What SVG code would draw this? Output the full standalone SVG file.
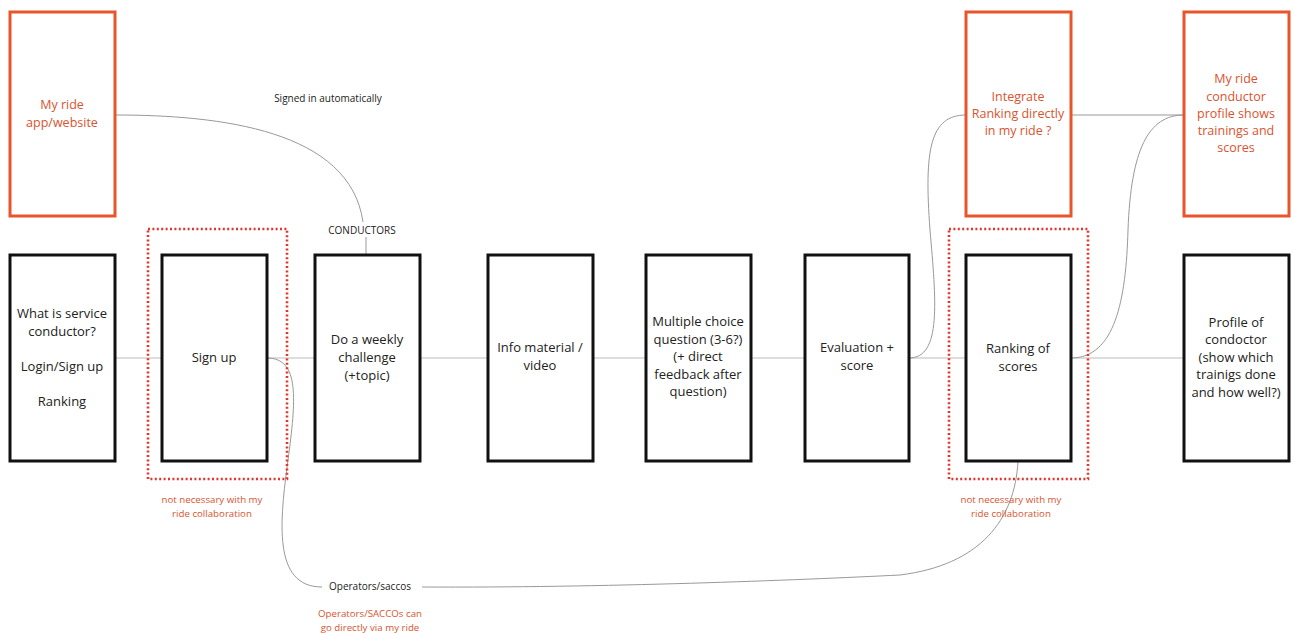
<svg xmlns="http://www.w3.org/2000/svg" width="1294" height="633" viewBox="0 0 1294 633">
<style>
.box{fill:#fff;stroke:#111;stroke-width:3}
.obox{fill:#fff;stroke:#E8552B;stroke-width:3}
.dot{fill:none;stroke:#E0362E;stroke-width:2.6;stroke-dasharray:2 2.4}
.t{font-family:"Open Sans","Noto Sans",sans-serif;font-size:13px;fill:#222;text-anchor:middle}
.ot{font-family:"Open Sans","Noto Sans",sans-serif;font-size:12.5px;fill:#D9532F;text-anchor:middle}
.s{font-family:"Open Sans","Noto Sans",sans-serif;font-size:10px;fill:#222;text-anchor:middle}
.rs{font-family:"Open Sans","Noto Sans",sans-serif;font-size:9.7px;fill:#D9532F;text-anchor:middle}
.c{fill:none;stroke:#bbb;stroke-width:1.2}
.c2{fill:none;stroke:#999;stroke-width:1}
</style>
<rect width="1294" height="633" fill="#fff"/>
<g id="connectors">
<line class="c" x1="115" y1="358" x2="162" y2="358"/>
<line class="c" x1="267" y1="358" x2="315" y2="358"/>
<line class="c" x1="420" y1="358" x2="488" y2="358"/>
<line class="c" x1="593" y1="358" x2="646" y2="358"/>
<line class="c" x1="751" y1="358" x2="805" y2="358"/>
<line class="c" x1="909" y1="358" x2="966" y2="358"/>
<line class="c" x1="1071" y1="358" x2="1184" y2="358"/>
<line class="c2" x1="1071" y1="115" x2="1184" y2="115"/>
<path class="c2" d="M115,115 C220,115 350,130 363,222"/>
<line class="c2" x1="366" y1="237" x2="366" y2="255"/>
<path class="c2" d="M267,358 C300,358 296,400 288,460 C280,520 272,587 322,587"/>
<path class="c2" d="M422,587 C600,588 800,580 900,575 C980,565 1015,520 1018,461"/>
<path class="c2" d="M909,358 C942,358 936,300 930,230 C924,150 930,115 966,115"/>
<path class="c2" d="M1071,358 C1115,358 1126,300 1128,230 C1131,150 1148,115 1184,115"/>
</g>
<g id="n-myride"><rect class="obox" x="10" y="12" width="105" height="204"/><text class="ot" x="62" y="109">My ride</text><text class="ot" x="62" y="127">app/website</text></g>
<g id="n-integrate"><rect class="obox" x="966" y="12" width="105" height="204"/><text class="ot" x="1018" y="101">Integrate</text><text class="ot" x="1018" y="118">Ranking directly</text><text class="ot" x="1018" y="135">in my ride ?</text></g>
<g id="n-myrideprofile"><rect class="obox" x="1184" y="12" width="105" height="204"/><text class="ot" x="1236" y="83">My ride</text><text class="ot" x="1236" y="101">conductor</text><text class="ot" x="1236" y="118">profile shows</text><text class="ot" x="1236" y="135">trainings and</text><text class="ot" x="1236" y="152">scores</text></g>
<g id="n-dotted-signup"><rect class="dot" x="148" y="229" width="139" height="250"/></g>
<g id="n-dotted-ranking"><rect class="dot" x="949" y="229" width="139" height="250"/></g>
<g id="n-what"><rect class="box" x="10" y="255" width="105" height="206"/><text class="t" x="62" y="318">What is service</text><text class="t" x="62" y="336">conductor?</text><text class="t" x="62" y="371">Login/Sign up</text><text class="t" x="62" y="406">Ranking</text></g>
<g id="n-signup"><rect class="box" x="162" y="255" width="105" height="206"/><text class="t" x="214" y="362">Sign up</text></g>
<g id="n-weekly"><rect class="box" x="315" y="255" width="105" height="206"/><text class="t" x="367" y="344">Do a weekly</text><text class="t" x="367" y="362">challenge</text><text class="t" x="367" y="380">(+topic)</text></g>
<g id="n-info"><rect class="box" x="488" y="255" width="105" height="206"/><text class="t" x="540" y="352">Info material /</text><text class="t" x="540" y="370">video</text></g>
<g id="n-mc"><rect class="box" x="646" y="255" width="105" height="206"/><text class="t" x="698" y="326">Multiple choice</text><text class="t" x="698" y="344">question (3-6?)</text><text class="t" x="698" y="361">(+ direct</text><text class="t" x="698" y="379">feedback after</text><text class="t" x="698" y="396">question)</text></g>
<g id="n-eval"><rect class="box" x="805" y="255" width="104" height="206"/><text class="t" x="857" y="352">Evaluation +</text><text class="t" x="857" y="370">score</text></g>
<g id="n-ranking"><rect class="box" x="966" y="255" width="105" height="206"/><text class="t" x="1018" y="353">Ranking of</text><text class="t" x="1018" y="371">scores</text></g>
<g id="n-profile"><rect class="box" x="1184" y="255" width="105" height="206"/><text class="t" x="1236" y="327">Profile of</text><text class="t" x="1236" y="344">condoctor</text><text class="t" x="1236" y="362">(show which</text><text class="t" x="1236" y="379">trainigs done</text><text class="t" x="1236" y="397">and how well?)</text></g>
<g id="labels">
<text class="s" x="328" y="102">Signed in automatically</text>
<text class="s" x="362" y="234">CONDUCTORS</text>
<text class="rs" x="212" y="503">not necessary with my</text>
<text class="rs" x="212" y="517">ride collaboration</text>
<text class="rs" x="1011" y="503">not necessary with my</text>
<text class="rs" x="1011" y="517">ride collaboration</text>
<text class="s" x="370" y="590">Operators/saccos</text>
<text class="rs" x="370" y="617">Operators/SACCOs can</text>
<text class="rs" x="370" y="631">go directly via my ride</text>
</g>
</svg>
